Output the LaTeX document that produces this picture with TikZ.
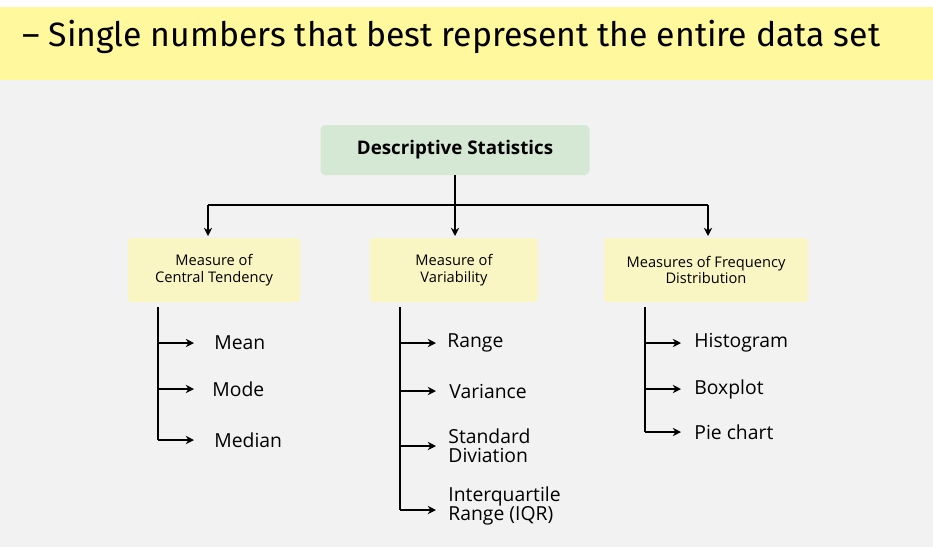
\documentclass[tikz,border=0pt]{standalone}
\usepackage{fontspec}
\setmainfont{Open Sans}
\newfontfamily\handfont{Fira Sans}
\usetikzlibrary{arrows.meta, positioning}
\definecolor{bandyellow}{HTML}{FFF89D}
\definecolor{pagegray}{HTML}{F2F2F2}
\definecolor{rootgreen}{HTML}{D5E8D4}
\definecolor{boxyellow}{HTML}{FAF6C4}
\tikzset{
  root/.style   = {rectangle, rounded corners=4pt, fill=rootgreen,
                   minimum width=269*0.03cm, minimum height=50*0.03cm,
                   font=\fontsize{16}{18}\selectfont\bfseries},
  group/.style  = {rectangle, rounded corners=3pt, fill=boxyellow,
                   minimum height=64*0.03cm, align=center,
                   font=\fontsize{12.5}{14}\selectfont},
  item/.style   = {anchor=west, align=left, inner sep=1pt,
                   font=\fontsize{16.5}{16}\selectfont},
  line/.style   = {line width=1.2pt},
  ->/.style     = {line width=1.2pt, -{Stealth[length=7pt,width=7pt]}}
}

\begin{document}
\begin{tikzpicture}[x=0.03cm, y=-0.03cm]
\useasboundingbox (0,0) rectangle (933,547);
\fill[white] (0,0) rectangle (933,7);
\fill[bandyellow] (0,7) rectangle (933,80);
\fill[pagegray] (0,80) rectangle (933,547);

\node[anchor=west, inner sep=0pt, font=\handfont\fontsize{28.8}{31}\selectfont] (title) at (22,37)
  {– Single numbers that best represent the entire data set};

% Root and groups
\node[root] (desc) at (455,150) {Descriptive Statistics};
\node[group, minimum width=172*0.03cm] (central) at (214,270) {Measure of\\Central Tendency};
\node[group, minimum width=168*0.03cm] (variab) at (454,270) {Measure of\\Variability};
\node[group, minimum width=204*0.03cm] (freq) at (706,270) {Measures of Frequency\\Distribution};

\coordinate (split) at (455,205);
\draw[line] (desc.south) -- (split);
\draw[line] (208,205) -- (708,205);
\draw[->] (208,205) -- (208,236);
\draw[->] (split) -- (455,236);
\draw[->] (708,205) -- (708,236);

% Central tendency
\node[item] (mean)   at (213,343) {Mean};
\node[item] (mode)   at (211,389) {Mode};
\node[item] (median) at (213,440) {Median};
\draw[line] (158,307) -- (158,440);
\foreach \n/\y in {mean/343, mode/389, median/440}
  \draw[->] (158,\y) -- (194,\y);

% Variability
\node[item] (range)  at (446,343) {Range};
\node[item] (var)    at (448,391) {Variance};
\node[item] (sd)     at (447,446) {Standard\\Diviation};
\node[item] (iqr)    at (447,506) {Interquartile\\Range (IQR)};
\draw[line] (400,307) -- (400,510);
\foreach \y in {343, 391, 446, 510}
  \draw[->] (400,\y) -- (436,\y);

% Frequency distribution
\node[item] (hist) at (693,343) {Histogram};
\node[item] (box)  at (693,389) {Boxplot};
\node[item] (pie)  at (693,432) {Pie chart};
\draw[line] (645,307) -- (645,432);
\foreach \y in {343, 389, 432}
  \draw[->] (645,\y) -- (681,\y);
\end{tikzpicture}
\end{document}
